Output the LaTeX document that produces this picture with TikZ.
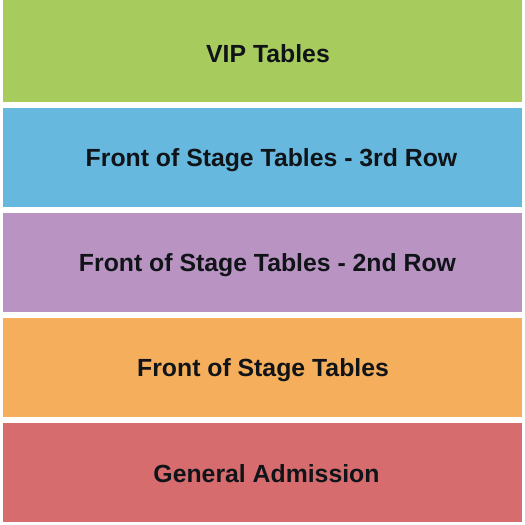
\documentclass[tikz,border=0pt]{standalone}
\usepackage{fontspec}
\setmainfont{Liberation Sans}
\definecolor{cvip}{HTML}{A8CB5E}
\definecolor{cthree}{HTML}{66B8DE}
\definecolor{ctwo}{HTML}{B993C2}
\definecolor{cfront}{HTML}{F5AE5B}
\definecolor{cga}{HTML}{D76C6F}
\definecolor{ctext}{HTML}{101418}
\begin{document}
\begin{tikzpicture}[x=1pt,y=-1pt,
  band/.style={draw=none,inner sep=0pt,outer sep=0pt,minimum width=519pt,minimum height=99pt,anchor=north west},
  lbl/.style={font=\bfseries\fontsize{24.8}{28}\selectfont,text=ctext,inner sep=0pt,anchor=center}]
\useasboundingbox (0,0) rectangle (525,525);
\fill[white] (0,0) rectangle (525,525);
\node[band,fill=cvip,minimum height=102pt] (vip) at (3,0) {};
\node[band,fill=cthree] (three) at (3,107.7) {};
\node[band,fill=ctwo] (two) at (3,212.7) {};
\node[band,fill=cfront] (front) at (3,317.8) {};
\node[band,fill=cga] (ga) at (3,422.8) {};
\node[lbl] (tvip) at (268,54) {VIP Tables};
\node[lbl] (tthree) at (271.5,160) {Front of Stage Tables - 3rd Row};
\node[lbl] (ttwo) at (267.5,265) {Front of Stage Tables - 2nd Row};
\node[lbl] (tfront) at (263,370) {Front of Stage Tables};
\node[lbl] (tga) at (266.5,474) {General Admission};
\end{tikzpicture}
\end{document}
